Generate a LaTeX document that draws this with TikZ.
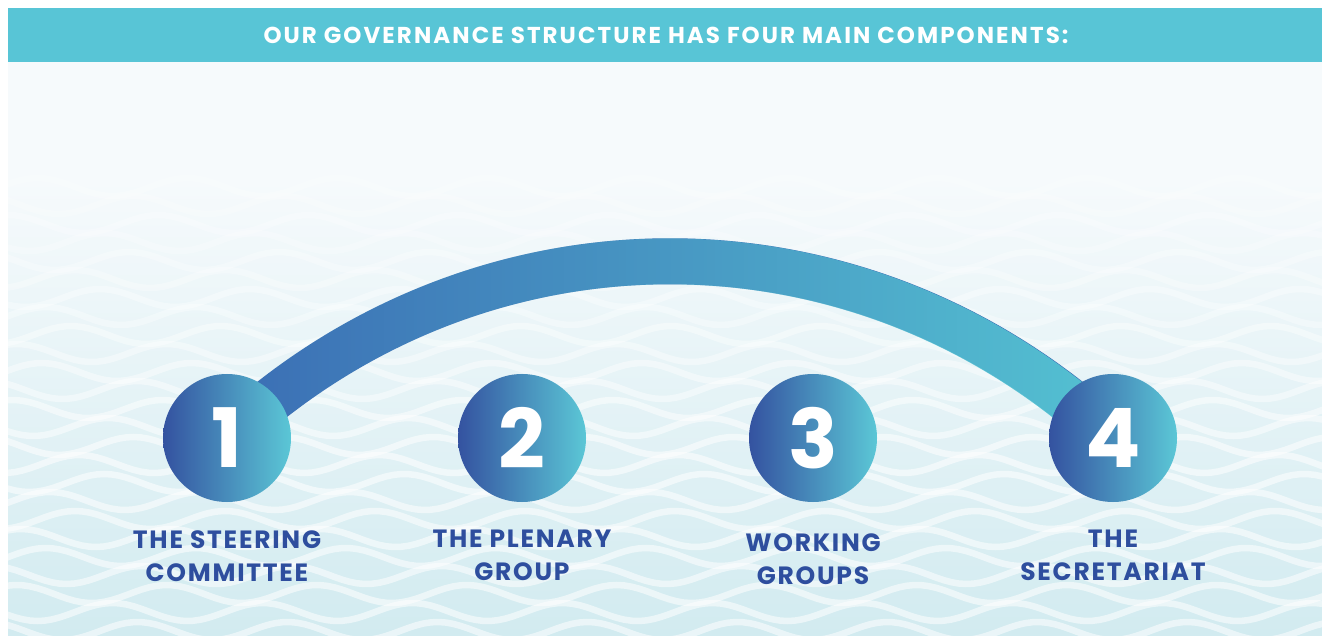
\documentclass[tikz,border=0pt]{standalone}
\usepackage{fontspec}
\setmainfont{Poppins}
\usetikzlibrary{positioning,fadings}
\definecolor{barcol}{HTML}{58C5D6}
\definecolor{bgTop}{HTML}{F6FAFC}
\definecolor{bgBot}{HTML}{D2EBF0}
\definecolor{arcL}{HTML}{3B6CB4}
\definecolor{arcR}{HTML}{55C4D3}
\definecolor{circL}{HTML}{3452A0}
\definecolor{circR}{HTML}{5BC7D6}
\definecolor{lblcol}{HTML}{2E4E9E}

\begin{document}
\begin{tikzpicture}[x=1pt,y=1pt,
    num/.style={shape=circle,minimum size=128pt,inner sep=0pt,left color=circL,right color=circR,text=white,font=\fontsize{82}{82}\selectfont\bfseries},
    lbl/.style={text=lblcol,align=center,inner sep=0pt,font=\fontsize{25}{33}\selectfont\bfseries\addfontfeature{LetterSpace=7}},
    band/.style={line width=46pt},
    wave/.style={white,line width=6.5pt}]
    \useasboundingbox (0,0) rectangle (1322,635);
    \fill[white] (0,0) rectangle (1322,635);
    % backdrop
    \fill[bgTop] (8,455) rectangle (1322,573);
    \shade[top color=bgTop,bottom color=bgBot] (8,0) rectangle (1322,455);
    \begin{scope}
      \clip (8,0) rectangle (1322,573);
      \foreach \k in {0,...,12} {
        \pgfmathsetmacro{\op}{min(0.2+0.05*\k,0.55)}
        \draw[wave,opacity=\op] plot[domain=0:1330,samples=180] (\x,{448-37*\k+9*sin(2.4*\x+70*\k)});
        \draw[wave,opacity=\op] plot[domain=0:1330,samples=180] (\x,{430-37*\k+9*sin(2.4*\x+70*\k+130)});
      }
    \end{scope}
    % title bar
    \fill[barcol] (8,573) rectangle (1322,627);
    \node[text=white,font=\fontsize{23}{23}\selectfont\bfseries\addfontfeature{LetterSpace=9}] (head) at (666,600) {OUR GOVERNANCE STRUCTURE HAS FOUR MAIN COMPONENTS:};

    \coordinate (p1) at (227,197);
    \coordinate (p2) at (522,197);
    \coordinate (p3) at (813,197);
    \coordinate (p4) at (1113,197);
    \draw[band,arcL] (p1) to[bend left=43] (p4);
    \draw[band,arcR,path fading=west] (p1) to[bend left=43] (p4);

    \node[num] (c1) at (p1) {1};
    \node[num] (c2) at (p2) {2};
    \node[num] (c3) at (p3) {3};
    \node[num] (c4) at (p4) {4};

    \node[lbl,below=28pt of c1] (t1) {THE STEERING\\COMMITTEE};
    \node[lbl,below=28pt of c2] (t2) {THE PLENARY\\GROUP};
    \node[lbl,below=31pt of c3] (t3) {WORKING\\GROUPS};
    \node[lbl,below=28pt of c4] (t4) {THE\\SECRETARIAT};
\end{tikzpicture}
\end{document}
